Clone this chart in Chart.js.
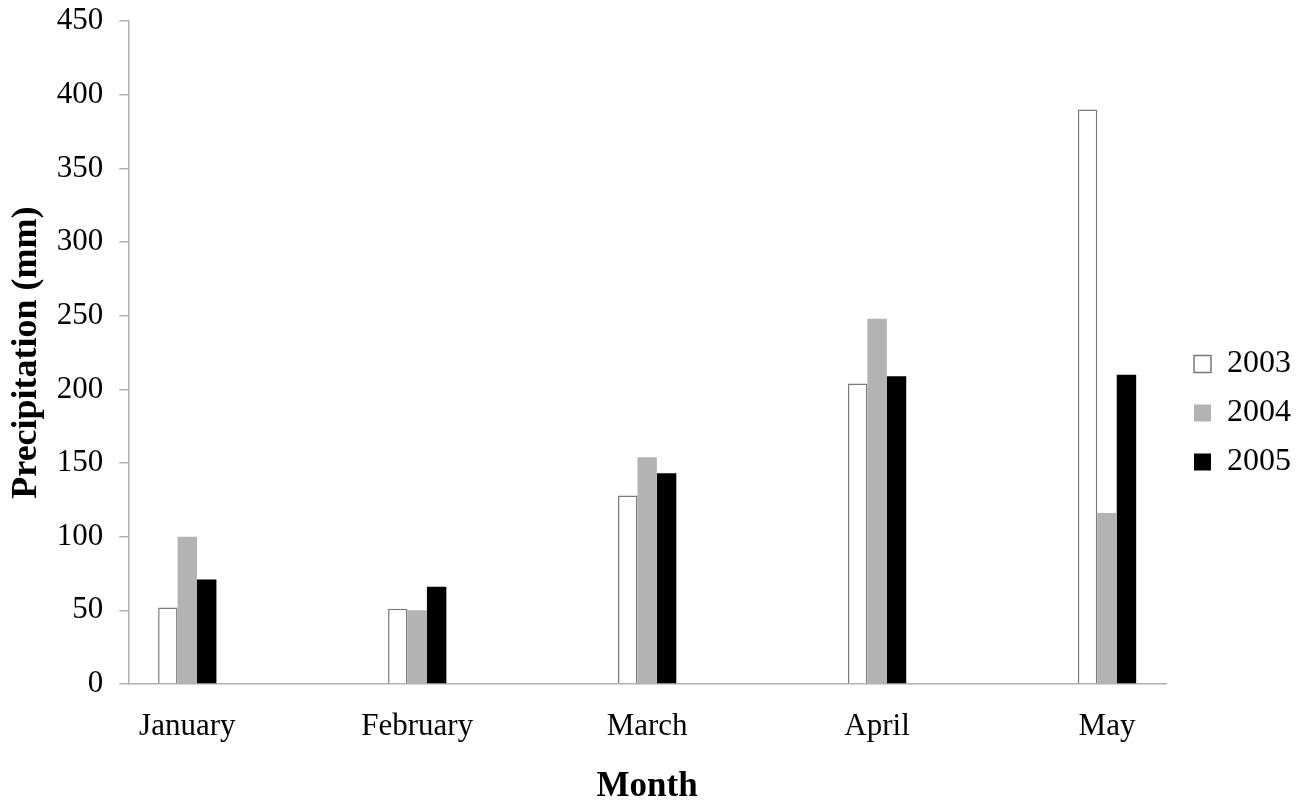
<!DOCTYPE html>
<html>
<head>
<meta charset="utf-8">
<script src="https://cdn.jsdelivr.net/npm/chart.js@4"></script>
<style>
  body { margin: 0; background: #fff; }
  #wrap { width: 1307px; height: 800px; }
</style>
</head>
<body>
<div id="wrap"><canvas id="rainChart" width="1307" height="800"></canvas></div>
<script>
const months = ["January", "February", "March", "April", "May"];
const years = ["2003", "2004", "2005"];
const rain2003 = [52, 51, 128, 204, 390];
const rain2004 = [100, 50, 154, 248, 116];
const rain2005 = [71, 66, 143, 209, 210];
const yTicks = [0, 50, 100, 150, 200, 250, 300, 350, 400, 450];

const serif = "'Liberation Serif', 'Times New Roman', serif";
const axisGrey = "#b0b0b0";

function points(values) {
    return values.map((v, i) => ({ x: i, y: v }));
}

let ctx = document.getElementById("rainChart").getContext("2d");

let rainChart = new Chart(ctx, {
    type: "bar",
    data: {
        datasets: [{
            label: years[0],
            data: points(rain2003),
            backgroundColor: "#ffffff",
            borderColor: "#7a7a7a",
            borderWidth: 1.5
        }, {
            label: years[1],
            data: points(rain2004),
            backgroundColor: "#b3b3b3",
            borderColor: "#b3b3b3",
            borderWidth: 0
        }, {
            label: years[2],
            data: points(rain2005),
            backgroundColor: "#000000",
            borderColor: "#000000",
            borderWidth: 0
        }]
    },
    options: {
        responsive: false,
        animation: false,
        devicePixelRatio: 1,
        categoryPercentage: 0.2535,
        barPercentage: 1,
        layout: { padding: { top: 0, left: 4, right: 6, bottom: 0 } },
        plugins: {
            tooltip: { enabled: false },
            legend: {
                position: "right",
                // empty title just pushes the entries down a little
                title: {
                    display: true,
                    text: " ",
                    font: { size: 10 },
                    padding: { top: 7, bottom: 7 }
                },
                labels: {
                    color: "#000",
                    font: { family: serif, size: 32 },
                    boxWidth: 17,
                    boxHeight: 17,
                    padding: 17
                }
            }
        },
        scales: {
            x: {
                type: "linear",
                min: -0.2565,
                max: 4.2565,
                offset: false,
                afterBuildTicks: scale => {
                    scale.ticks = months.map((m, i) => ({ value: i }));
                },
                ticks: {
                    color: "#000",
                    font: { family: serif, size: 31, lineHeight: 1 },
                    padding: 27,
                    maxRotation: 0,
                    autoSkip: false,
                    callback: v => months[v]
                },
                grid: { display: false, drawTicks: false, offset: false },
                border: { color: axisGrey, width: 1.5 },
                title: {
                    display: true,
                    text: "Month",
                    color: "#000",
                    font: { family: serif, size: 35, weight: "bold", lineHeight: 32 / 35 },
                    padding: { top: 2, bottom: -3 }
                }
            },
            y: {
                min: 0,
                max: 450,
                afterBuildTicks: scale => {
                    scale.ticks = yTicks.map(v => ({ value: v }));
                },
                ticks: {
                    color: "#000",
                    font: { family: serif, size: 31, lineHeight: 0.33 },
                    padding: 16
                },
                grid: {
                    drawOnChartArea: false,
                    drawTicks: true,
                    tickLength: 9,
                    color: axisGrey,
                    lineWidth: 1.5
                },
                border: { color: axisGrey, width: 1.5 },
                title: {
                    display: true,
                    text: "Precipitation (mm)",
                    color: "#000",
                    font: { family: serif, size: 36, weight: "bold", lineHeight: 0.8 },
                    padding: { top: 8, bottom: 0 }
                }
            },
            // blank spacer between plot and legend
            gap: {
                position: "right",
                display: true,
                ticks: { display: false },
                grid: { display: false },
                border: { display: false },
                afterFit: scale => { scale.width = 11; }
            }
        }
    }
});
</script>
</body>
</html>
